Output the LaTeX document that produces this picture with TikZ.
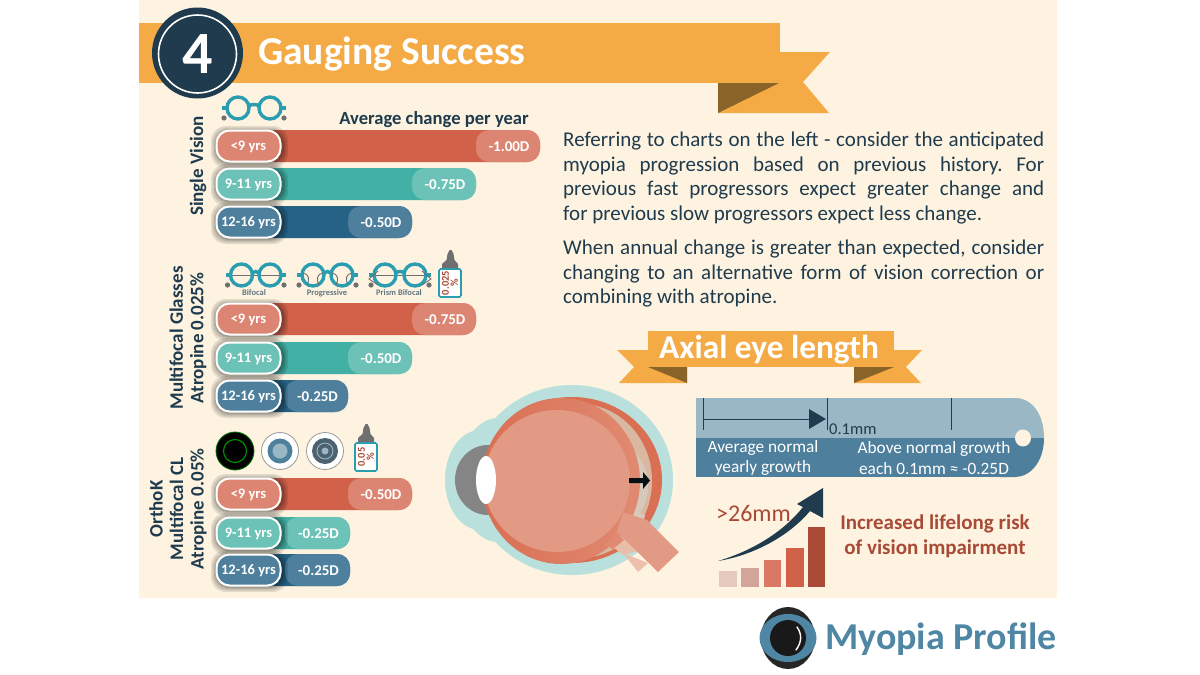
\documentclass[tikz,border=0pt]{standalone}
\usepackage{fontspec}
\setmainfont{Carlito}
\usetikzlibrary{calc}
\definecolor{cream}{HTML}{FDF3E0}
\definecolor{ribbon}{HTML}{F5AB45}
\definecolor{fold}{HTML}{8A6328}
\definecolor{navy}{HTML}{1F3B4D}
\definecolor{rdark}{HTML}{D2614A}
\definecolor{rlight}{HTML}{DC8572}
\definecolor{tdark}{HTML}{43B0A5}
\definecolor{tlight}{HTML}{6CC2B6}
\definecolor{bdark}{HTML}{256285}
\definecolor{blight}{HTML}{4E809E}
\definecolor{frame}{HTML}{2A9DB0}
\definecolor{greybit}{HTML}{6F6F70}
\definecolor{brick}{HTML}{A84A35}
\definecolor{eyeteal}{HTML}{B9E0DC}
\definecolor{eyeorange}{HTML}{D96F53}
\definecolor{eyering}{HTML}{E08A72}
\definecolor{eyepink}{HTML}{E29A84}
\definecolor{eyebeige}{HTML}{D9B8A2}
\definecolor{eyepale}{HTML}{D8C8BC}
\definecolor{eyeghost}{HTML}{EFBFAE}
\definecolor{rulerl}{HTML}{9AB7C6}
\definecolor{rulerd}{HTML}{4E7F9C}
\definecolor{logoblue}{HTML}{4E86A4}
\tikzset{
  x=1pt,y=-1pt,
  agepill/.style={draw=white,line width=2pt,minimum width=64pt,minimum height=31pt,rounded corners=13pt,inner sep=0pt,text=white,text depth=0pt,font=\fontsize{14.5}{16}\selectfont\bfseries},
  valtext/.style={text=white,inner sep=0pt,yshift=-.5pt,font=\fontsize{15}{16}\selectfont\bfseries},
  grouplabel/.style={rotate=90,align=center,text=navy,inner sep=0pt,font=\fontsize{19}{20.5}\selectfont\bfseries},
  glasslabel/.style={text=navy!70,inner sep=0pt,font=\fontsize{8.5}{9}\selectfont\bfseries},
  para/.style={text=navy,anchor=north west,inner sep=0pt,text width=481pt,align=justify,font=\frenchspacing\fontsize{21}{24.6}\selectfont},
  rulertext/.style={text=white,align=center,inner sep=0pt,font=\fontsize{17.3}{20.5}\selectfont},
  risktext/.style={text=brick,inner sep=0pt,align=center,font=\fontsize{21}{25}\selectfont\bfseries},
  frameline/.style={draw=frame,line width=3.4pt},
}
% name, y, right end, start of light tip, age, dark, light, value
\newcommand\agebar[8]{%
  \fill[#6,rounded corners=13pt] (232,#2-16) rectangle (#3,#2+16);
  \fill[#7,rounded corners=13pt] (#4,#2-16) rectangle (#3,#2+16);
  \path (#4+2,#2) -- node[valtext] (#1v) {#8} (#3,#2);
  \foreach \o in {5,3.5,2,1}{\fill[black,opacity=.10,rounded corners=15pt] (215-\o+1,#2-16-\o+1) rectangle (282+\o+1,#2+16+\o+1);}
  \node[agepill,fill=#7] (#1p) at (248.5,#2) {#5};
}
\newcommand\specs[4]{% name, left lens x, right lens x, y
  \fill[greybit] (#2-14,#4+10) circle (2.6);
  \fill[greybit] (#3+14,#4+10) circle (2.6);
  \draw[frameline] (#2,#4) circle (11);
  \draw[frameline] (#3,#4) circle (11);
  \draw[frameline] (#2+11,#4-2) .. controls (#2+13,#4-4) and (#3-13,#4-4) .. (#3-11,#4-2);
  \draw[frameline] (#2-11,#4) -- (#2-16,#4);
  \draw[frameline] (#3+11,#4) -- (#3+16,#4);
}
\newcommand\funnel[2]{% lens x, y
  \draw[greybit,line width=.9pt] (#1-10,#2-2) .. controls (#1-4,#2-1) and (#1-3,#2+4) .. (#1-6,#2+10)
    (#1+10,#2-2) .. controls (#1+4,#2-1) and (#1+3,#2+4) .. (#1+6,#2+10);
}
\newcommand\bottle[4]{% name, x left, y top of body, text
  \fill[greybit] (#2+3,#3) -- (#2+3,#3-5) -- (#2+7.5,#3-9) -- (#2+8.5,#3-15) -- (#2+10.5,#3-19) -- (#2+12.5,#3-19) -- (#2+14.5,#3-15) -- (#2+15.5,#3-9) -- (#2+19,#3-5) -- (#2+19,#3) -- cycle;
  \draw[frame,fill=white,line width=1.6pt,rounded corners=1.5pt] (#2,#3) rectangle (#2+22,#3+28);
  \node[rotate=90,text=brick,inner sep=0pt,align=center,font=\fontsize{10.5}{9}\selectfont\bfseries] (#1) at (#2+11,#3+14) {#4\\\%};
}
\begin{document}
\begin{tikzpicture}
\useasboundingbox (0,0) rectangle (1200,675);
\fill[white] (0,0) rectangle (1200,675);
\fill[cream] (139,0) rectangle (1057,598);
% header ribbon
\fill[ribbon] (780,52) -- (830,52) -- (803,82) -- (829,113) -- (718,113) -- (718,83) -- cycle;
\fill[fold] (718,83) -- (779,83) -- (718,113) -- cycle;
\fill[ribbon] (139,23) rectangle (780,83);
\node[circle,fill=navy,minimum size=91pt,inner sep=0pt] (badge) at (197.5,53) {};
\node[circle,draw=white,line width=1.6pt,minimum size=78pt,inner sep=0pt,text=white,font=\fontsize{60}{62}\selectfont\bfseries] (badgetext) at (197.5,54) {4};
\node[text=white,anchor=west,inner sep=0pt,font=\fontsize{39.5}{41}\selectfont\bfseries] (title) at (258,54) {Gauging Success};
% left column
\specs{sv}{238}{270}{108}
\node[text=navy,anchor=east,inner sep=0pt,font=\fontsize{18.6}{20}\selectfont\bfseries] (avg) at (529,120) {Average change per year};
\node[grouplabel] (g1) at (198,166) {Single Vision};
\agebar{a}{146}{540}{476}{<9 yrs}{rdark}{rlight}{-1.00D}
\agebar{b}{184}{476}{412}{9-11 yrs}{tdark}{tlight}{-0.75D}
\agebar{c}{222}{412}{348}{12-16 yrs}{bdark}{blight}{-0.50D}

\node[grouplabel] (g2) at (188,338) {Multifocal Glasses\\Atropine 0.025\%};
\draw[greybit,line width=.9pt] (230,275) -- (282,275) (373,275) -- (427,275);
\specs{bf}{241.5}{270}{275}
\specs{pg}{313}{342}{275}
\specs{pb}{385}{415}{275}
\funnel{313}{275}
\funnel{342}{275}
\draw[greybit,line width=.9pt] (378,271) -- (369,279) -- (378,285) (422,271) -- (431,279) -- (422,285);
\node[glasslabel] (l1) at (254,293) {Bifocal};
\node[glasslabel] (l2) at (327,293) {Progressive};
\node[glasslabel] (l3) at (399,293) {Prism Bifocal};
\bottle{b1}{439}{269}{0.025}
\agebar{d}{319}{476}{412}{<9 yrs}{rdark}{rlight}{-0.75D}
\agebar{e}{358}{412}{348}{9-11 yrs}{tdark}{tlight}{-0.50D}
\agebar{f}{396}{348}{285}{12-16 yrs}{bdark}{blight}{-0.25D}

\node[grouplabel] (g3) at (178,509) {OrthoK\\Multifocal CL\\Atropine 0.05\%};
% lenses
\fill[black] (235,451) circle (19);
\draw[green!45!black,line width=.8pt] (235,451) circle (19);
\draw[green!55!black,line width=1.2pt] (235,451) circle (11.5);
\draw[greybit!70,line width=.8pt,fill=white] (280,451) circle (18.5);
\fill[blight] (280,451) circle (12.5);
\fill[rulerl] (280,451) circle (7.5);
\draw[greybit!70,line width=.8pt,fill=white] (325,451) circle (18.5);
\fill[navy!80] (325,451) circle (13);
\draw[rulerl,line width=.9pt] (325,451) circle (8);
\fill[rulerl] (325,451) circle (3.5);
\bottle{b2}{355}{443}{0.05}
\agebar{h}{494}{412}{348}{<9 yrs}{rdark}{rlight}{-0.50D}
\agebar{i}{533}{350}{285}{9-11 yrs}{tdark}{tlight}{-0.25D}
\agebar{j}{570}{350}{285}{12-16 yrs}{bdark}{blight}{-0.25D}

% paragraphs
\node[para] (p1) at (563,132) {Referring to charts on the left - consider the anticipated\linebreak myopia progression based on previous history. For\linebreak previous fast progressors expect greater change and\linebreak for previous slow progressors expect less change.};
\node[para] (p2) at (563,240) {When annual change is greater than expected, consider\linebreak changing to an alternative form of vision correction or\linebreak combining with atropine.};

% axial banner
\fill[ribbon] (648,350) -- (617,350) -- (634,367) -- (619,383) -- (687,383) -- (687,367) -- (648,367) -- cycle;
\fill[ribbon] (894,350) -- (922,350) -- (906,367) -- (921,383) -- (854,383) -- (854,367) -- (894,367) -- cycle;
\fill[fold] (648,367) -- (687,367) -- (687,383) -- cycle;
\fill[fold] (894,367) -- (854,367) -- (854,383) -- cycle;
\fill[ribbon] (648,331) rectangle (894,367);
\node[text=white,inner sep=0pt,font=\fontsize{33.3}{35}\selectfont\bfseries] (axial) at (769,350) {Axial eye length};

% eye
\fill[eyeteal] (572,480) ellipse (101 and 95);
\fill[eyeteal] (480,480) ellipse (35 and 50);
\fill[eyeteal] (498,480) ellipse (40 and 62);
\fill[greybit!85] (488,480) ellipse (33 and 35);
\fill[eyeorange] (572,480) ellipse (90 and 83);
\fill[eyebeige] (580,481) ellipse (72 and 77);
\fill[eyepale] (574,486) ellipse (74 and 60);
\shade[left color=eyeorange,middle color=eyeorange,right color=eyering] (561,481) ellipse (79 and 83);
\fill[eyepink] (557,481) ellipse (73 and 71);
% optic nerve
\fill[eyeghost] (623,553) -- (648,563) -- (638,572) -- cycle;
\fill[eyeghost!70!eyebeige] (613,547) -- (625,538) -- (637,551) -- (623,555) -- cycle;
\fill[eyering] (605,545) -- (617,533) -- (624,540) -- (613,549) -- cycle;
\fill[eyepale] (632,522) -- (635,511) -- (645,515) -- (641,531) -- cycle;
\fill[eyepink] (623,512) -- (647,520) -- (679,552) -- (658,572) -- (617,532) -- cycle;
\fill[white] (486,480) ellipse (10 and 24);
\fill[black!75!navy] (629,478) -- (643,478) -- (643,472) -- (650,480.5) -- (643,489) -- (643,483) -- (629,483) -- cycle;

% ruler
\fill[rulerd] (696,438) rectangle (1010,477);
\fill[rulerl] (696,398) rectangle (1010,438);
\fill[rulerl] (1000,398) -- (1015,398) .. controls (1032,398) and (1044,414) .. (1044,438) -- (1000,438) -- cycle;
\fill[rulerd] (1000,438) -- (1044,438) .. controls (1044,462) and (1030,477) .. (1015,477) -- (1000,477) -- cycle;
\fill[cream] (1023,438) ellipse (8 and 8.5);
\coordinate (t1) at (703,398);
\coordinate (t2) at (827,398);
\coordinate (t3) at (951,398);
\draw[navy,line width=.9pt] (t1) -- ++(0,32);
\draw[navy,line width=.9pt] (t2) -- ++(0,32);
\draw[navy,line width=.9pt] (t3) -- ++(0,32);
\draw[navy,line width=.9pt] (703,419) -- (815,419);
\fill[navy] (809,409) -- (826,419) -- (809,429) -- cycle;
\node[text=navy,anchor=west,inner sep=0pt,font=\fontsize{16.5}{18}\selectfont] (tenth) at (829,429) {0.1mm};
\node[rulertext] (avgn) at (763,458) {Average normal\\yearly growth};
\node[rulertext] (aboven) at (934,458) {Above normal growth\\each 0.1mm ≈ -0.25D};

% growth
\fill[brick!35!white!80!cream] (719,571) rectangle (737,587);
\fill[brick!50!white] (741,568) rectangle (759,587);
\fill[rdark!85!white] (764,560) rectangle (781,587);
\fill[rdark] (786,548) rectangle (804,587);
\fill[brick] (808,527) rectangle (825,587);
\fill[navy] (718,561) .. controls (755,555) and (790,535) .. (810,511) -- (823,518) -- (823,488) -- (797,504) -- (803,507) .. controls (785,530) and (755,550) .. (718,561) -- cycle;
\node[text=brick,anchor=west,inner sep=0pt,font=\fontsize{24}{26}\selectfont] (mm) at (716,513) {>26mm};
\node[risktext] (risk) at (935,536) {Increased lifelong risk\\of vision impairment};

% logo
\fill[black!85] (788,638) ellipse (27 and 31);
\fill[logoblue] (788,638) ellipse (28.5 and 24);
\fill[black!90] (788,638) circle (18);
\draw[white,line width=1.4pt,line cap=round] (797,627) .. controls (802,634) and (802,642) .. (796,650);
\node[text=logoblue,anchor=west,inner sep=0pt,font=\fontsize{38}{40}\selectfont\bfseries] (brand) at (825,639) {Myopia Profile};
\end{tikzpicture}
\end{document}
